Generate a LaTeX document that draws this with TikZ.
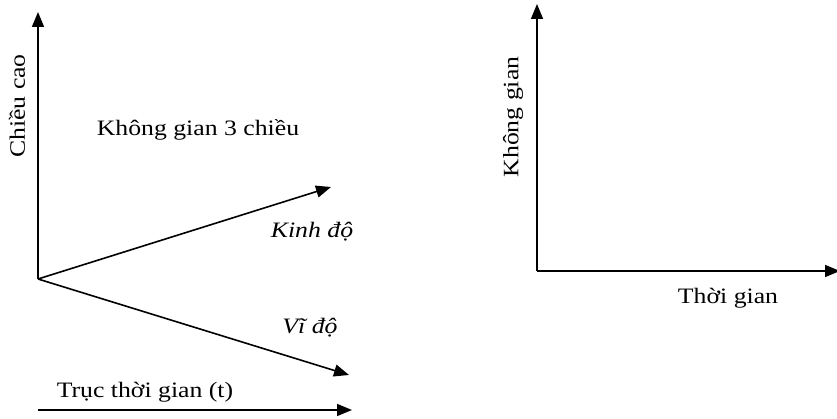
\documentclass[tikz,border=0pt]{standalone}
\usepackage{fontspec}
\setmainfont{Liberation Serif}[FakeStretch=1.17]
\usetikzlibrary{arrows.meta}
\begin{document}
\begin{tikzpicture}[x=1pt,y=-1pt,
  axis/.style={line width=1.6pt,-{Triangle[length=15pt,width=12pt]}},
  lbl/.style={inner sep=0pt,font=\fontsize{22}{25}\selectfont},
  ilbl/.style={lbl,font=\fontsize{22}{25}\selectfont\itshape}]
\useasboundingbox (0,0) rectangle (837,419);
% left diagram
\coordinate (o) at (38,279);
\coordinate (up) at (38,12);
\coordinate (kd) at (331,187);
\coordinate (vd) at (349,375);
\coordinate (ts) at (38,410);
\coordinate (te) at (352,410);
\draw[axis] (o) -- (up);
\draw[axis] (o) -- (kd);
\draw[axis] (o) -- (vd);
\draw[axis] (ts) -- (te);
\node[lbl,rotate=90] (cc) at (17,106) {Chiều cao};
\node[lbl] (kg3) at (198,130) {Không gian 3 chiều};
\node[ilbl] (kdl) at (312,232) {Kinh độ};
\node[ilbl] (vdl) at (310,328) {Vĩ độ};
\node[lbl] (tt) at (145,392) {Trục thời gian (t)};
% right diagram
\coordinate (o2) at (537,271);
\coordinate (up2) at (537,4);
\coordinate (re) at (840,271);
\draw[axis] (o2) -- (up2);
\draw[axis] (o2) -- (re);
\node[lbl,rotate=90] (kg) at (513,117) {Không gian};
\node[lbl] (tg) at (728,298) {Thời gian};
\end{tikzpicture}
\end{document}
